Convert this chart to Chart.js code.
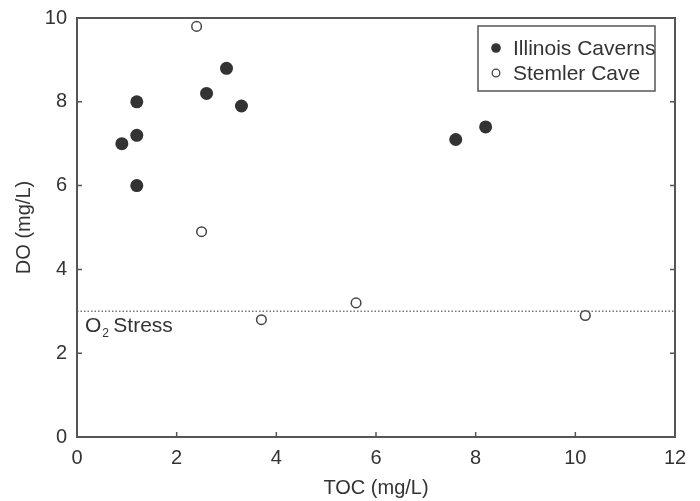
<!DOCTYPE html>
<html>
<head>
<meta charset="utf-8">
<script src="https://cdn.jsdelivr.net/npm/chart.js@4.4.1/dist/chart.umd.min.js"></script>
<style>
  html, body { margin: 0; padding: 0; background: #fff; }
  #wrap { width: 700px; height: 501px; }
</style>
</head>
<body>
<div id="wrap"><canvas id="chart" width="700" height="501"></canvas></div>
<script>
// TOC (x) vs DO (y)
const illinoisToc = [0.9, 1.2, 1.2, 1.2, 2.6, 3.0, 3.3, 7.6, 8.2];
const illinoisDo = [7.0, 8.0, 7.2, 6.0, 8.2, 8.8, 7.9, 7.1, 7.4];
const stemlerToc = [2.4, 2.5, 3.7, 5.6, 10.2];
const stemlerDo = [9.8, 4.9, 2.8, 3.2, 2.9];
const stressLevel = 3;
const xTicks = [0, 2, 4, 6, 8, 10, 12];
const yTicks = [0, 2, 4, 6, 8, 10];
const seriesNames = ["Illinois Caverns", "Stemler Cave"];

const ink = "#333";
const frame = "#555";
const fam = "'Liberation Sans', Arial, sans-serif";
Chart.defaults.font.family = fam;
Chart.defaults.color = ink;

function toPoints(xs, ys) {
  return xs.map((x, i) => ({ x: x, y: ys[i] }));
}

// frame, inward ticks, legend box and the O2 label
const decorations = {
  id: "decorations",
  afterDatasetsDraw(chart) {
    const ctx = chart.ctx;
    const a = chart.chartArea;
    const xs = chart.scales.x;
    const ys = chart.scales.y;
    ctx.save();

    ctx.strokeStyle = frame;
    ctx.lineWidth = 2;
    ctx.strokeRect(a.left, a.top, a.right - a.left, a.bottom - a.top);

    ctx.lineWidth = 1.5;
    ctx.beginPath();
    xTicks.slice(1, -1).forEach((v) => {
      const px = xs.getPixelForValue(v);
      ctx.moveTo(px, a.bottom);
      ctx.lineTo(px, a.bottom - 5);
    });
    yTicks.slice(1, -1).forEach((v) => {
      const py = ys.getPixelForValue(v);
      ctx.moveTo(a.left, py);
      ctx.lineTo(a.left + 5, py);
      ctx.moveTo(a.right, py);
      ctx.lineTo(a.right - 5, py);
    });
    ctx.stroke();

    // O2 Stress label
    const sy = ys.getPixelForValue(stressLevel);
    ctx.fillStyle = ink;
    ctx.textBaseline = "alphabetic";
    ctx.textAlign = "left";
    ctx.font = "21px " + fam;
    ctx.fillText("O", a.left + 8, sy + 21);
    const ow = ctx.measureText("O").width;
    ctx.font = "12px " + fam;
    ctx.fillText("2", a.left + 8 + ow + 1, sy + 26);
    ctx.font = "21px " + fam;
    ctx.fillText("Stress", a.left + 8 + ow + 12, sy + 21);

    // legend
    ctx.strokeStyle = frame;
    ctx.lineWidth = 1.5;
    ctx.strokeRect(478, 26, 177, 65);
    const rows = [48, 73];
    ctx.textBaseline = "middle";
    ctx.font = "21px " + fam;
    rows.forEach((ry, i) => {
      ctx.beginPath();
      if (i === 0) {
        ctx.fillStyle = ink;
        ctx.arc(496, ry, 4.8, 0, Math.PI * 2);
        ctx.fill();
      } else {
        ctx.fillStyle = "#fff";
        ctx.strokeStyle = "#444";
        ctx.lineWidth = 1.3;
        ctx.arc(496, ry, 3.8, 0, Math.PI * 2);
        ctx.fill();
        ctx.stroke();
      }
      ctx.fillStyle = ink;
      ctx.fillText(seriesNames[i], 513, ry + 1);
    });

    ctx.restore();
  },
};

const ctx = document.getElementById("chart").getContext("2d");
const chart = new Chart(ctx, {
  type: "scatter",
  data: {
    datasets: [
      {
        label: seriesNames[0],
        data: toPoints(illinoisToc, illinoisDo),
        pointRadius: 6.5,
        backgroundColor: ink,
        borderColor: ink,
        borderWidth: 0,
      },
      {
        label: seriesNames[1],
        data: toPoints(stemlerToc, stemlerDo),
        pointRadius: 4.8,
        backgroundColor: "#fff",
        borderColor: "#444",
        borderWidth: 1.5,
      },
      {
        type: "line",
        label: "O2 Stress",
        data: [
          { x: xTicks[0], y: stressLevel },
          { x: xTicks[xTicks.length - 1], y: stressLevel },
        ],
        borderColor: "#777",
        borderWidth: 1.5,
        borderDash: [1.5, 2],
        pointRadius: 0,
        fill: false,
      },
    ],
  },
  options: {
    responsive: false,
    animation: false,
    devicePixelRatio: 1,
    layout: { padding: { top: 18, right: 25, left: 0, bottom: 0 } },
    plugins: {
      legend: { display: false },
      tooltip: { enabled: false },
    },
    scales: {
      x: {
        type: "linear",
        min: xTicks[0],
        max: xTicks[xTicks.length - 1],
        afterBuildTicks: (s) => { s.ticks = xTicks.map((v) => ({ value: v })); },
        afterFit: (s) => {
          s.height = 64;
          s.paddingLeft = 0;
          s.paddingRight = 0;
        },
        grid: { display: false, drawTicks: false },
        border: { display: false },
        ticks: { padding: 9, font: { size: 20 }, color: ink },
        title: {
          display: true,
          text: "TOC (mg/L)",
          font: { size: 20 },
          color: ink,
          padding: { top: 0, bottom: 1 },
        },
      },
      y: {
        type: "linear",
        min: yTicks[0],
        max: yTicks[yTicks.length - 1],
        afterBuildTicks: (s) => { s.ticks = yTicks.map((v) => ({ value: v })); },
        afterFit: (s) => {
          s.width = 77;
          s.paddingTop = 0;
          s.paddingBottom = 0;
        },
        grid: { display: false, drawTicks: false },
        border: { display: false },
        ticks: { padding: 10, font: { size: 20 }, color: ink },
        title: {
          display: true,
          text: "DO (mg/L)",
          font: { size: 20 },
          color: ink,
          padding: { top: 12, bottom: 0 },
        },
      },
    },
  },
  plugins: [decorations],
});
</script>
</body>
</html>
